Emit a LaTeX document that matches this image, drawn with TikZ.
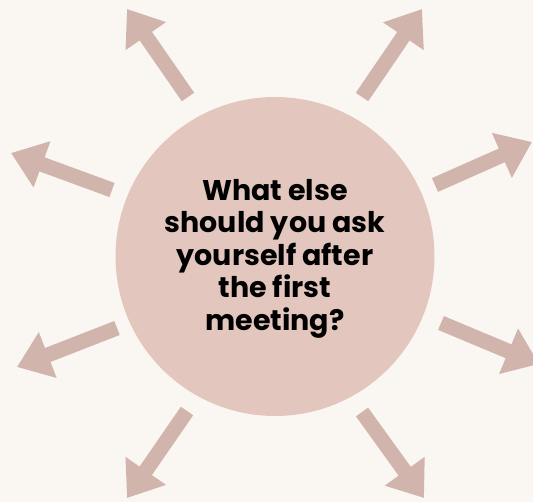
\documentclass[tikz,border=0pt]{standalone}
\usepackage{fontspec}
\usetikzlibrary{arrows.meta}
\newfontfamily\headfont{Poppins}
\definecolor{paper}{HTML}{FAF7F3}
\definecolor{blush}{HTML}{E3C7BF}
\definecolor{dustrose}{HTML}{D1B5AC}

\begin{document}
\begin{tikzpicture}[x=1pt, y=-1pt,
        spoke/.style={draw=dustrose, line width=15pt, -{Triangle[length=33pt, width=47pt]}}]
        \fill[paper] (0,0) rectangle (533,502);
        \useasboundingbox (0,0) rectangle (533,502);

        \node (centre) [circle, fill=blush, minimum size=319pt, inner sep=0pt] at (275,256.5) {};
        \node (question) [align=center, inner sep=0pt,
            font=\headfont\bfseries\fontsize{28.5}{32.5}\selectfont] at (275,258.5)
            {What else\\should you ask\\yourself after\\the first\\meeting?};

        \coordinate (a1) at (188,97);   \coordinate (b1) at (127,9);
        \coordinate (a2) at (362,97);   \coordinate (b2) at (422,9);
        \coordinate (a3) at (112,190);  \coordinate (b3) at (11,153);
        \coordinate (a4) at (435,185);  \coordinate (b4) at (532,142);
        \coordinate (a5) at (117,328);  \coordinate (b5) at (17,367);
        \coordinate (a6) at (441,323);  \coordinate (b6) at (539,364);
        \coordinate (a7) at (187,411);  \coordinate (b7) at (127,498);
        \coordinate (a8) at (362,412);  \coordinate (b8) at (424,498);

        \draw [spoke] (a1) -- (b1);
        \draw [spoke] (a2) -- (b2);
        \draw [spoke] (a3) -- (b3);
        \draw [spoke] (a4) -- (b4);
        \draw [spoke] (a5) -- (b5);
        \draw [spoke] (a6) -- (b6);
        \draw [spoke] (a7) -- (b7);
        \draw [spoke] (a8) -- (b8);
\end{tikzpicture}
\end{document}
